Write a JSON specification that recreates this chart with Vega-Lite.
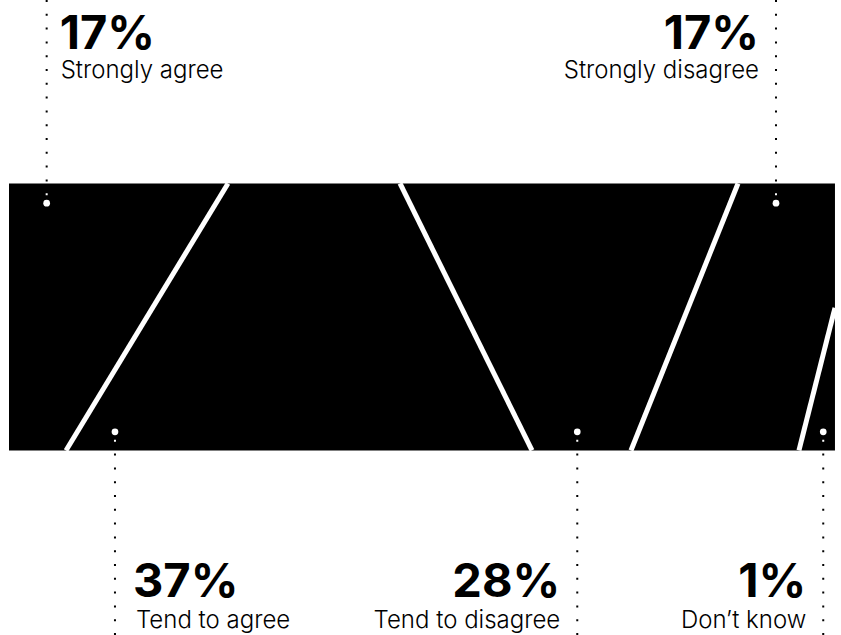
{
  "$schema": "https://vega.github.io/schema/vega-lite/v6.json",
  "width": 841,
  "height": 635,
  "padding": 0,
  "autosize": "none",
  "background": "white",
  "config": {"view": {"stroke": null}},
  "datasets": {
    "band": [{"x0": 0, "x1": 100, "y0": 0, "y1": 1}],
    "segments": [
      {"label": "Strongly agree", "pct": "17%", "pos": 4.56, "side": "top", "align": "left", "edgeY": 1, "dotY": 0.926, "endY": 1.687},
      {"label": "Tend to agree", "pct": "37%", "pos": 12.83, "side": "bottom", "align": "left", "edgeY": 0, "dotY": 0.07, "endY": -0.691},
      {"label": "Tend to disagree", "pct": "28%", "pos": 68.8, "side": "bottom", "align": "right", "edgeY": 0, "dotY": 0.07, "endY": -0.691},
      {"label": "Strongly disagree", "pct": "17%", "pos": 92.86, "side": "top", "align": "right", "edgeY": 1, "dotY": 0.926, "endY": 1.687},
      {"label": "Don’t know", "pct": "1%", "pos": 98.58, "side": "bottom", "align": "right", "edgeY": 0, "dotY": 0.07, "endY": -0.691}
    ],
    "dividers": [
      {"xBottom": 6.9, "xTop": 26.51, "yBottom": 0, "yTop": 1},
      {"xBottom": 63.32, "xTop": 47.34, "yBottom": 0, "yTop": 1},
      {"xBottom": 75.3, "xTop": 88.26, "yBottom": 0, "yTop": 1},
      {"xBottom": 95.64, "xTop": 100, "yBottom": 0, "yTop": 0.534}
    ]
  },
  "layer": [
    {
      "data": {"name": "band"},
      "mark": {"type": "rect", "color": "black"},
      "encoding": {
        "x": {"field": "x0", "type": "quantitative", "scale": {"domain": [-1.09, 100.73]}, "axis": null},
        "x2": {"field": "x1"},
        "y": {"field": "y0", "type": "quantitative", "scale": {"domain": [-0.691, 1.687]}, "axis": null},
        "y2": {"field": "y1"}
      }
    },
    {
      "data": {"name": "dividers"},
      "mark": {"type": "rule", "color": "white", "strokeWidth": 5},
      "encoding": {
        "x": {"field": "xBottom", "type": "quantitative", "scale": {"domain": [-1.09, 100.73]}, "axis": null},
        "x2": {"field": "xTop"},
        "y": {"field": "yBottom", "type": "quantitative", "scale": {"domain": [-0.691, 1.687]}, "axis": null},
        "y2": {"field": "yTop"}
      }
    },
    {
      "data": {"name": "segments"},
      "mark": {"type": "rule", "color": "white", "strokeWidth": 2, "strokeDash": [2, 11.8]},
      "encoding": {
        "x": {"field": "pos", "type": "quantitative", "scale": {"domain": [-1.09, 100.73]}, "axis": null},
        "y": {"field": "endY", "type": "quantitative", "scale": {"domain": [-0.691, 1.687]}, "axis": null},
        "y2": {"field": "dotY"}
      }
    },
    {
      "data": {"name": "segments"},
      "mark": {"type": "rule", "color": "black", "strokeWidth": 2, "strokeDash": [2, 11.8]},
      "encoding": {
        "x": {"field": "pos", "type": "quantitative", "scale": {"domain": [-1.09, 100.73]}, "axis": null},
        "y": {"field": "endY", "type": "quantitative", "scale": {"domain": [-0.691, 1.687]}, "axis": null},
        "y2": {"field": "edgeY"}
      }
    },
    {
      "data": {"name": "segments"},
      "mark": {"type": "point", "filled": true, "color": "white", "opacity": 1, "size": 45},
      "encoding": {
        "x": {"field": "pos", "type": "quantitative", "scale": {"domain": [-1.09, 100.73]}, "axis": null},
        "y": {"field": "dotY", "type": "quantitative", "scale": {"domain": [-0.691, 1.687]}, "axis": null}
      }
    },
    {
      "data": {"name": "segments"},
      "transform": [{"filter": "datum.side === 'top' && datum.align === 'left'"}],
      "mark": {"type": "text", "font": "Inter", "fontWeight": "bold", "fontSize": 47, "align": "left", "baseline": "alphabetic", "dx": 13, "dy": -134, "color": "black"},
      "encoding": {
        "x": {"field": "pos", "type": "quantitative", "scale": {"domain": [-1.09, 100.73]}, "axis": null},
        "y": {"field": "edgeY", "type": "quantitative", "scale": {"domain": [-0.691, 1.687]}, "axis": null},
        "text": {"field": "pct", "type": "nominal"}
      }
    },
    {
      "data": {"name": "segments"},
      "transform": [{"filter": "datum.side === 'top' && datum.align === 'left'"}],
      "mark": {"type": "text", "font": "Inter", "fontWeight": 300, "fontSize": 24, "align": "left", "baseline": "alphabetic", "dx": 14, "dy": -105.5, "color": "black"},
      "encoding": {
        "x": {"field": "pos", "type": "quantitative", "scale": {"domain": [-1.09, 100.73]}, "axis": null},
        "y": {"field": "edgeY", "type": "quantitative", "scale": {"domain": [-0.691, 1.687]}, "axis": null},
        "text": {"field": "label", "type": "nominal"}
      }
    },
    {
      "data": {"name": "segments"},
      "transform": [{"filter": "datum.side === 'top' && datum.align === 'right'"}],
      "mark": {"type": "text", "font": "Inter", "fontWeight": "bold", "fontSize": 47, "align": "right", "baseline": "alphabetic", "dx": -17, "dy": -134, "color": "black"},
      "encoding": {
        "x": {"field": "pos", "type": "quantitative", "scale": {"domain": [-1.09, 100.73]}, "axis": null},
        "y": {"field": "edgeY", "type": "quantitative", "scale": {"domain": [-0.691, 1.687]}, "axis": null},
        "text": {"field": "pct", "type": "nominal"}
      }
    },
    {
      "data": {"name": "segments"},
      "transform": [{"filter": "datum.side === 'top' && datum.align === 'right'"}],
      "mark": {"type": "text", "font": "Inter", "fontWeight": 300, "fontSize": 24, "align": "right", "baseline": "alphabetic", "dx": -17, "dy": -105.5, "color": "black"},
      "encoding": {
        "x": {"field": "pos", "type": "quantitative", "scale": {"domain": [-1.09, 100.73]}, "axis": null},
        "y": {"field": "edgeY", "type": "quantitative", "scale": {"domain": [-0.691, 1.687]}, "axis": null},
        "text": {"field": "label", "type": "nominal"}
      }
    },
    {
      "data": {"name": "segments"},
      "transform": [{"filter": "datum.side === 'bottom' && datum.align === 'left'"}],
      "mark": {"type": "text", "font": "Inter", "fontWeight": "bold", "fontSize": 47, "align": "left", "baseline": "alphabetic", "dx": 18, "dy": 147, "color": "black"},
      "encoding": {
        "x": {"field": "pos", "type": "quantitative", "scale": {"domain": [-1.09, 100.73]}, "axis": null},
        "y": {"field": "edgeY", "type": "quantitative", "scale": {"domain": [-0.691, 1.687]}, "axis": null},
        "text": {"field": "pct", "type": "nominal"}
      }
    },
    {
      "data": {"name": "segments"},
      "transform": [{"filter": "datum.side === 'bottom' && datum.align === 'left'"}],
      "mark": {"type": "text", "font": "Inter", "fontWeight": 300, "fontSize": 24, "align": "left", "baseline": "alphabetic", "dx": 21, "dy": 177.8, "color": "black"},
      "encoding": {
        "x": {"field": "pos", "type": "quantitative", "scale": {"domain": [-1.09, 100.73]}, "axis": null},
        "y": {"field": "edgeY", "type": "quantitative", "scale": {"domain": [-0.691, 1.687]}, "axis": null},
        "text": {"field": "label", "type": "nominal"}
      }
    },
    {
      "data": {"name": "segments"},
      "transform": [{"filter": "datum.side === 'bottom' && datum.align === 'right'"}],
      "mark": {"type": "text", "font": "Inter", "fontWeight": "bold", "fontSize": 47, "align": "right", "baseline": "alphabetic", "dx": -17, "dy": 147, "color": "black"},
      "encoding": {
        "x": {"field": "pos", "type": "quantitative", "scale": {"domain": [-1.09, 100.73]}, "axis": null},
        "y": {"field": "edgeY", "type": "quantitative", "scale": {"domain": [-0.691, 1.687]}, "axis": null},
        "text": {"field": "pct", "type": "nominal"}
      }
    },
    {
      "data": {"name": "segments"},
      "transform": [{"filter": "datum.side === 'bottom' && datum.align === 'right'"}],
      "mark": {"type": "text", "font": "Inter", "fontWeight": 300, "fontSize": 24, "align": "right", "baseline": "alphabetic", "dx": -17, "dy": 177.8, "color": "black"},
      "encoding": {
        "x": {"field": "pos", "type": "quantitative", "scale": {"domain": [-1.09, 100.73]}, "axis": null},
        "y": {"field": "edgeY", "type": "quantitative", "scale": {"domain": [-0.691, 1.687]}, "axis": null},
        "text": {"field": "label", "type": "nominal"}
      }
    }
  ]
}
